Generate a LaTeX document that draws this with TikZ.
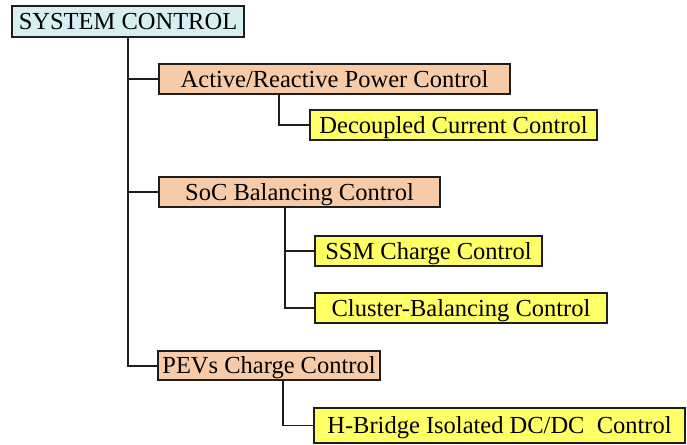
\documentclass[tikz,border=0pt]{standalone}
\usepackage{fontspec}
\setmainfont{Liberation Serif}
\definecolor{sysblue}{HTML}{D7EEF3}
\definecolor{peach}{HTML}{F8CBA8}
\definecolor{lemon}{HTML}{FFFF66}
\definecolor{edge}{HTML}{1E1E1E}
\tikzset{
  box/.style={draw=edge, line width=1.3pt, rectangle, inner sep=0pt,
    font=\fontsize{24.5}{26}\selectfont, text height=16.4pt, text depth=0pt},
  sysbox/.style={box, fill=sysblue},
  mainbox/.style={box, fill=peach},
  subbox/.style={box, fill=lemon},
  link/.style={draw=edge, line width=1.5pt},
  trunk/.style={draw=edge, line width=2pt}
}
\begin{document}
\begin{tikzpicture}[x=1pt,y=-1pt]
\useasboundingbox (0,0) rectangle (687,444);
\fill[white] (0,0) rectangle (687,444);

% boxes
\node[sysbox, minimum width=232pt, minimum height=31pt] (sys) at (128,21.5) {SYSTEM CONTROL};
\node[mainbox, minimum width=351pt, minimum height=30pt] (act) at (334.5,79) {Active/Reactive Power Control};
\node[subbox, minimum width=287pt, minimum height=30pt] (dec) at (453.5,125) {Decoupled Current Control};
\node[mainbox, minimum width=281pt, minimum height=30pt] (soc) at (299.5,192) {SoC Balancing Control};
\node[subbox, minimum width=227pt, minimum height=30pt] (ssm) at (428.5,251) {SSM Charge Control};
\node[subbox, minimum width=292pt, minimum height=30pt] (clu) at (461,308) {Cluster-Balancing Control};
\node[mainbox, minimum width=222pt, minimum height=29pt] (pev) at (269,365.5) {PEVs Charge Control};
\node[subbox, minimum width=371pt, minimum height=35pt] (hbr) at (499.5,425.5) {H-Bridge Isolated DC/DC\ \ Control};

% branch columns
\coordinate (c0) at (128,0);
\coordinate (c1) at (279,0);
\coordinate (c2) at (285,0);
\coordinate (c3) at (283,0);

% main trunk
\draw[trunk] (sys.south) |- (pev.west);
\draw[link] (c0 |- act.west) -- (act.west);
\draw[link] (c0 |- soc.west) -- (soc.west);

% sub branches
\draw[link] (c1 |- act.south) |- (dec.west);
\draw[link] (c2 |- soc.south) |- (clu.west);
\draw[link] (c2 |- ssm.west) -- (ssm.west);
\draw[link] (c3 |- pev.south) |- (hbr.west);
\end{tikzpicture}
\end{document}
